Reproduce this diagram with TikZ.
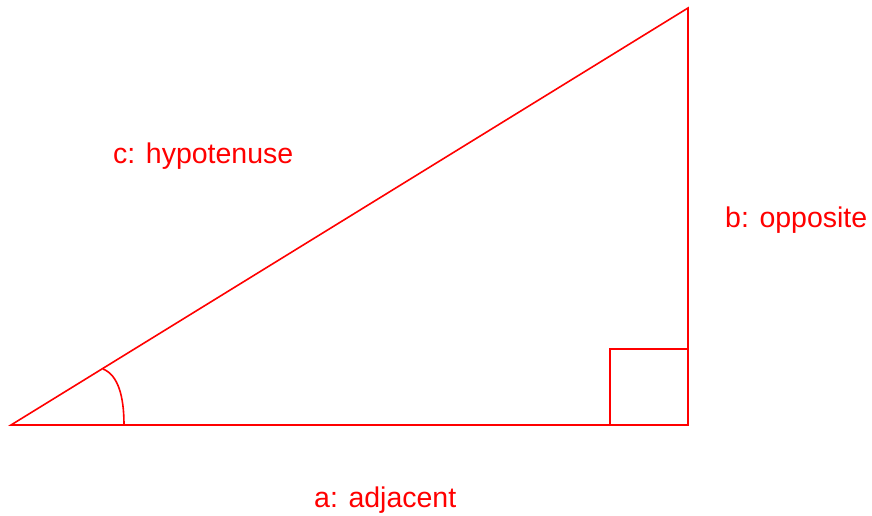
\documentclass[tikz,border=0pt]{standalone}
\usepackage{fontspec}
\setmainfont{Liberation Sans}
\begin{document}
\begin{tikzpicture}[x=1pt,y=-1pt,
  edge/.style={draw=red,line width=1.6pt,line join=miter},
  lbl/.style={text=red,font=\fontsize{28.5}{34}\selectfont,anchor=base west,inner sep=0pt}]
\useasboundingbox (0,0) rectangle (872,516);
\coordinate (A) at (11,425);
\coordinate (B) at (688,425);
\coordinate (C) at (688,8);
\coordinate (R1) at (124,425);
\coordinate (R2) at (103,369);
\draw[edge] (A) -- (B) -- (C) -- cycle;
\draw[edge] (610,425) |- (688,349);
\draw[edge] (R1) .. controls (124,396) and (118,375) .. (R2);
\node[lbl] (c) at (113,163) {c: hypotenuse};
\node[lbl] (b) at (725,227) {b: opposite};
\node[lbl] (a) at (314,507) {a: adjacent};
\end{tikzpicture}
\end{document}
